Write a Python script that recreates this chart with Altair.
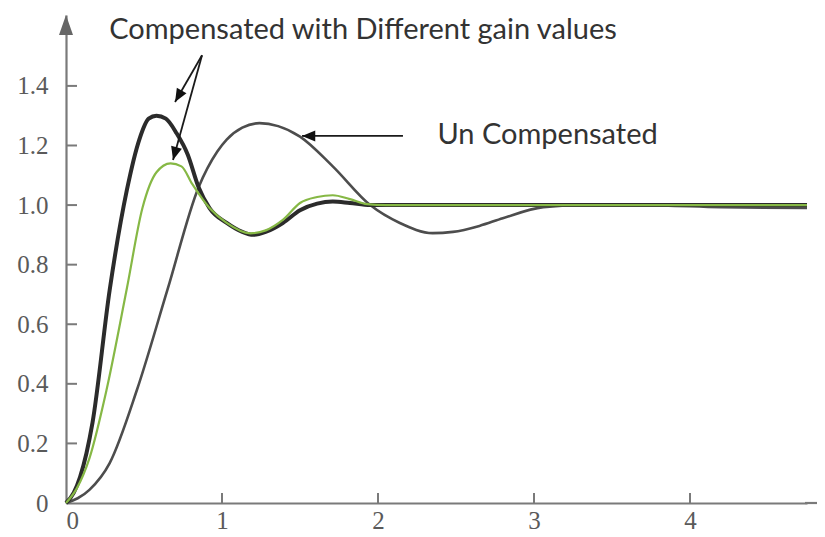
import altair as alt
import pandas as pd

# ---- data ----
# Compensated (higher gain, dark)
comp1_t = [0, 0.05, 0.09, 0.17, 0.28, 0.39, 0.47, 0.53, 0.58, 0.64, 0.71, 0.78, 0.85, 0.92, 1.03, 1.13, 1.20, 1.28, 1.39, 1.50, 1.61, 1.71, 1.82, 1.95, 2.2, 3.0, 3.7, 4.2, 4.75]
comp1_y = [0, 0.035, 0.087, 0.27, 0.715, 1.05, 1.22, 1.29, 1.30, 1.29, 1.24, 1.17, 1.06, 0.99, 0.94, 0.91, 0.90, 0.91, 0.94, 0.983, 1.005, 1.012, 1.007, 1.0, 1.0, 1.0, 1.0, 1.0, 1.0]

# Compensated (lower gain, green)
comp2_t = [0, 0.07, 0.15, 0.26, 0.39, 0.49, 0.58, 0.67, 0.74, 0.81, 0.92, 1.03, 1.18, 1.28, 1.39, 1.50, 1.61, 1.71, 1.82, 1.93, 2.05, 2.5, 3.0, 3.7, 4.2, 4.75]
comp2_y = [0, 0.05, 0.15, 0.38, 0.72, 0.99, 1.11, 1.14, 1.13, 1.07, 0.99, 0.94, 0.905, 0.915, 0.95, 1.007, 1.027, 1.033, 1.02, 1.003, 1.0, 1.0, 1.0, 1.0, 1.0, 1.0]

# Uncompensated
unc_t = [0, 0.15, 0.28, 0.455, 0.65, 0.85, 0.97, 1.03, 1.13, 1.24, 1.36, 1.50, 1.71, 1.95, 2.14, 2.35, 2.48, 2.65, 2.80, 3.06, 3.3, 3.7, 4.2, 4.75]
unc_y = [0, 0.044, 0.134, 0.38, 0.715, 1.06, 1.18, 1.22, 1.26, 1.275, 1.265, 1.23, 1.13, 1.0, 0.94, 0.906, 0.91, 0.93, 0.956, 0.993, 1.0, 1.0, 0.993, 0.99]

y_ticks = [0, 0.2, 0.4, 0.6, 0.8, 1.0, 1.2, 1.4]
x_ticks = [0, 1, 2, 3, 4]

# annotation arrows (data units): start -> tip
arrow_x = [0.872, 0.872, 2.160]
arrow_y = [1.503, 1.503, 1.232]
arrow_x2 = [0.699, 0.686, 1.513]
arrow_y2 = [1.346, 1.151, 1.232]
arrow_angle = [210, 195.4, 270]

label_text = ["Compensated with Different gain values", "Un Compensated"]
label_x = [1.904, 3.087]
label_y = [1.587, 1.235]

X_DOMAIN = [0, 4.75]
Y_DOMAIN = [0, 1.638]
W, H = 741, 488

df_c1 = pd.DataFrame({"t": comp1_t, "y": comp1_y})
df_c2 = pd.DataFrame({"t": comp2_t, "y": comp2_y})
df_u = pd.DataFrame({"t": unc_t, "y": unc_y})
df_arrow = pd.DataFrame({"t": arrow_x, "y": arrow_y, "t2": arrow_x2, "y2": arrow_y2, "angle": arrow_angle})
df_lab = pd.DataFrame({"text": label_text, "t": label_x, "y": label_y})
df_yt = pd.DataFrame({"y": y_ticks[1:]})
df_xt = pd.DataFrame({"t": x_ticks[1:]})
df_axis_tip = pd.DataFrame({"t": [0], "y": [Y_DOMAIN[1]]})
df_base = pd.DataFrame({"y": [0]})

xscale = alt.Scale(domain=X_DOMAIN, nice=False, zero=False)
yscale = alt.Scale(domain=Y_DOMAIN, nice=False, zero=False)

label_font = "Liberation Serif"
axis_col = "#7a7a7a"

x_axis = alt.Axis(values=x_ticks, format="d", grid=False, ticks=False,
                  domainColor=axis_col, domainWidth=2.2,
                  labelFont=label_font, labelFontSize=25, labelColor="#5a5a5a",
                  labelPadding=5, title=None)
y_axis = alt.Axis(values=y_ticks, grid=False, ticks=False,
                  domainColor=axis_col, domainWidth=2.2,
                  labelExpr="datum.value == 0 ? '0' : format(datum.value, '.1f')",
                  labelFont=label_font, labelFontSize=25, labelColor="#5a5a5a",
                  labelPadding=18, title=None)

X = alt.X("t:Q", scale=xscale, axis=x_axis)
Y = alt.Y("y:Q", scale=yscale, axis=y_axis)

base_line = alt.Chart(df_u).mark_line(color="#4d4d4d", strokeWidth=2.6, interpolate="monotone").encode(x=X, y=Y)
c1_line = alt.Chart(df_c1).mark_line(color="#2b2b2b", strokeWidth=4, interpolate="monotone").encode(x=X, y=Y)
c2_line = alt.Chart(df_c2).mark_line(color="#86b845", strokeWidth=2.2, interpolate="monotone").encode(x=X, y=Y)

# x-axis line runs a little past the plotted range, as in the original
x_extend = alt.Chart(df_base).mark_rule(color=axis_col, strokeWidth=2.2).encode(
    y=Y, x=alt.value(W - 2), x2=alt.value(W + 10),
)

y_tick_marks = alt.Chart(df_yt).mark_rule(color=axis_col, strokeWidth=2).encode(
    y=Y, x=alt.value(0), x2=alt.value(11),
)
x_tick_marks = alt.Chart(df_xt).mark_rule(color=axis_col, strokeWidth=2).encode(
    x=X, y=alt.value(H), y2=alt.value(H - 10),
)

axis_tip = alt.Chart(df_axis_tip).mark_point(
    shape="M0,0L0.35,1L-0.35,1Z", filled=True, color="#666666", size=1600, opacity=1
).encode(x=X, y=Y)

arrow_lines = alt.Chart(df_arrow).mark_rule(color="#1a1a1a", strokeWidth=1.8).encode(
    x=X, y=Y, x2="t2:Q", y2="y2:Q",
)
arrow_heads = alt.Chart(df_arrow).mark_point(
    shape="M0,0L0.42,1L-0.42,1Z", filled=True, color="#111111", size=700, opacity=1
).encode(
    x=alt.X("t2:Q", scale=xscale, axis=x_axis),
    y=alt.Y("y2:Q", scale=yscale, axis=y_axis),
    angle=alt.Angle("angle:Q", scale=None),
)

labels = alt.Chart(df_lab).mark_text(
    font="Lato", fontSize=29, color="#333333", align="center", baseline="middle"
).encode(x=X, y=Y, text="text:N")

chart = alt.layer(
    base_line, c1_line, c2_line, x_extend, y_tick_marks, x_tick_marks, axis_tip,
    arrow_lines, arrow_heads, labels
).properties(
    width=W, height=H,
    autosize=alt.AutoSizeParams(type="none"),
    padding={"left": 58, "top": 7, "right": 10, "bottom": 30},
    background="white",
).configure_view(stroke=None)

chart.save("out.html", embed_options={"renderer": "svg", "actions": False})
